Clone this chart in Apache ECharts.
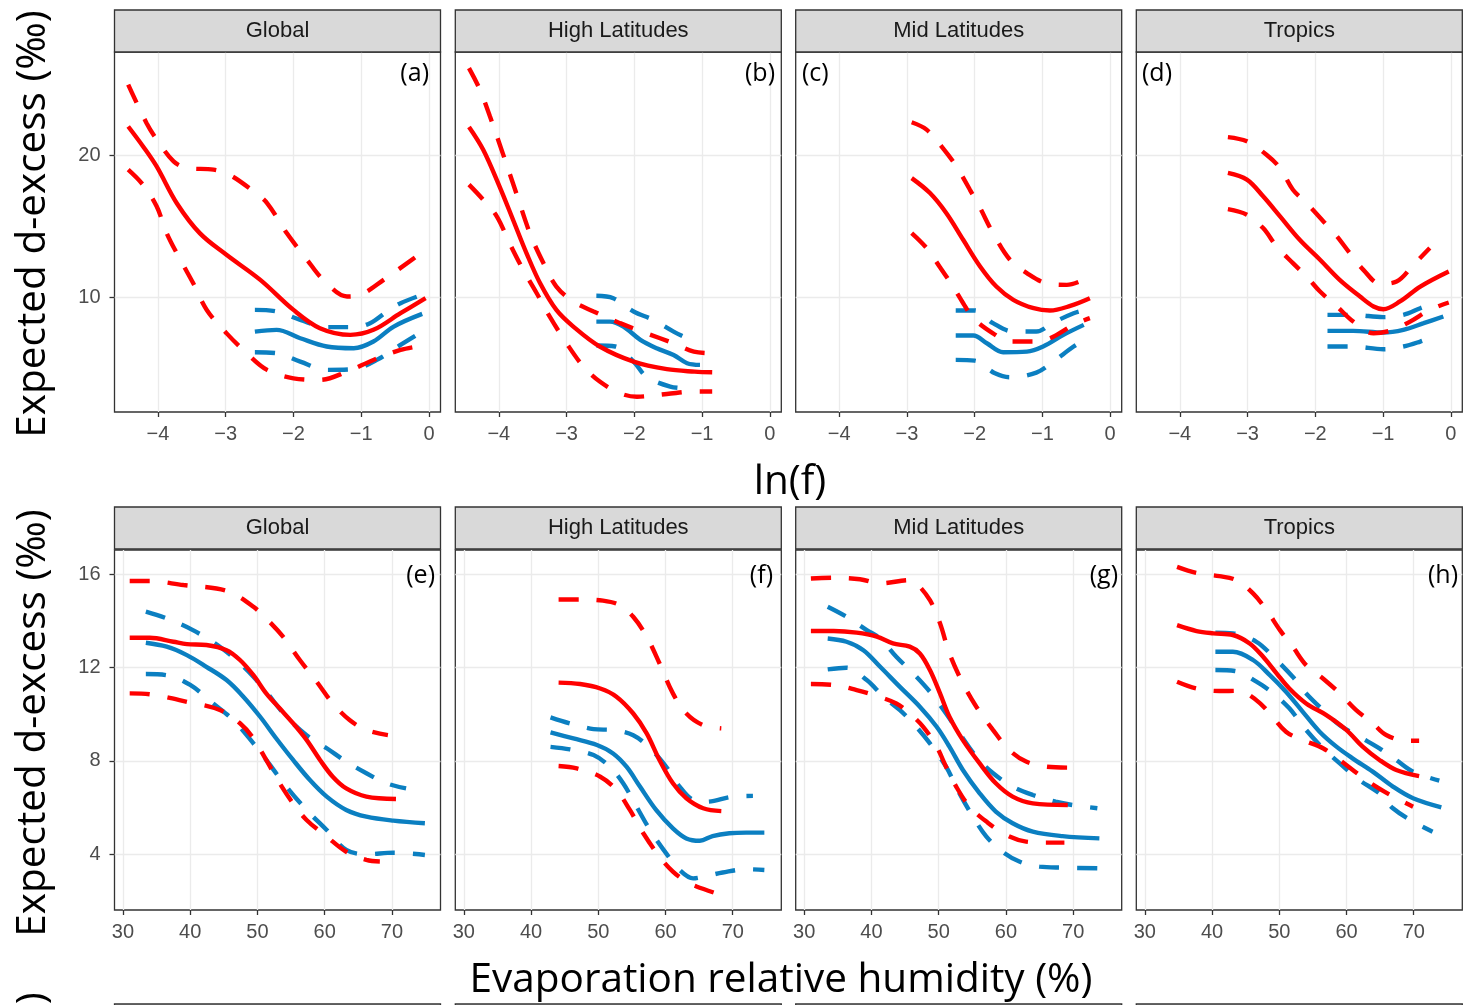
<!DOCTYPE html>
<html>
<head>
<meta charset="utf-8">
<script src="https://cdn.jsdelivr.net/npm/echarts@6/dist/echarts.min.js"></script>
<style>
  html, body { margin: 0; padding: 0; background: #fff; }
  #chart { width: 1479px; height: 1005px; }
</style>
</head>
<body>
<div id="chart"></div>
<script>
// facet strips and panel tags
const stripNames = ['Global', 'High Latitudes', 'Mid Latitudes', 'Tropics'];
const tagsTop = ['(a)', '(b)', '(c)', '(d)'];
const tagsBottom = ['(e)', '(f)', '(g)', '(h)'];

// tick labels
const lnfTicks = [-4, -3, -2, -1, 0];
const lnfYTicks = [10, 20];
const rhTicks = [30, 40, 50, 60, 70];
const rhYTicks = [4, 8, 12, 16];

// ---- top row: ln(f) ----
const aRed = [[-4.44,22.0],[-4.22,20.6],[-4.02,19.2],[-3.72,16.6],[-3.38,14.5],[-2.99,13.0],[-2.49,11.24],[-2.0,9.13],[-1.61,7.85],[-1.16,7.38],[-0.82,7.73],[-0.42,8.9],[-0.05,9.95]];
const aRedHi = [[-4.44,24.94],[-4.17,22.25],[-4.02,21.1],[-3.77,19.55],[-3.58,19.1],[-3.18,18.97],[-2.94,18.6],[-2.59,17.45],[-2.39,16.63],[-2.1,14.52],[-1.8,12.65],[-1.56,11.24],[-1.21,10.07],[-1.01,10.19],[-0.67,11.24],[-0.15,13.0]];
const aRedLo = [[-4.44,18.97],[-4.22,17.9],[-4.02,16.4],[-3.87,14.5],[-3.67,12.65],[-3.48,11.0],[-3.28,9.13],[-2.99,7.5],[-2.69,6.09],[-2.39,4.92],[-2.0,4.33],[-1.61,4.22],[-1.21,4.8],[-0.82,5.62],[-0.42,6.32],[-0.13,6.6]];
const aBlue = [[-2.57,7.61],[-2.25,7.73],[-1.9,7.14],[-1.51,6.56],[-1.11,6.44],[-0.82,6.91],[-0.52,7.96],[-0.1,8.85]];
const aBlueHi = [[-2.57,9.13],[-2.25,9.02],[-1.9,8.43],[-1.51,7.92],[-1.11,7.92],[-0.87,8.2],[-0.62,9.02],[-0.42,9.6],[-0.1,10.19]];
const aBlueLo = [[-2.57,6.16],[-2.25,6.09],[-1.9,5.5],[-1.51,4.92],[-1.11,4.97],[-0.77,5.62],[-0.42,6.67],[-0.1,7.61]];

const bRed = [[-4.44,21.97],[-4.23,20.37],[-3.99,17.8],[-3.79,15.46],[-3.59,13.1],[-3.39,11.0],[-3.15,9.13],[-2.9,7.96],[-2.51,6.56],[-2.01,5.5],[-1.52,4.97],[-1.11,4.8],[-0.85,4.75]];
const bRedHi = [[-4.44,26.1],[-4.28,24.6],[-4.13,22.7],[-3.94,20.1],[-3.74,17.3],[-3.54,14.5],[-3.34,12.4],[-3.15,10.77],[-2.9,9.72],[-2.6,9.02],[-2.21,8.2],[-1.82,7.49],[-1.42,6.79],[-1.12,6.2],[-0.85,6.09]];
const bRedLo = [[-4.44,17.92],[-4.23,16.86],[-4.03,15.7],[-3.84,13.8],[-3.64,11.94],[-3.44,10.3],[-3.25,8.67],[-3.0,6.79],[-2.75,5.15],[-2.51,4.1],[-2.21,3.28],[-1.96,3.04],[-1.52,3.23],[-1.12,3.4],[-0.85,3.4]];
const bBlue = [[-2.56,8.31],[-2.36,8.31],[-2.16,7.96],[-1.91,7.03],[-1.67,6.44],[-1.42,5.97],[-1.22,5.39],[-1.03,5.27]];
const bBlueHi = [[-2.56,10.12],[-2.31,9.95],[-2.01,9.02],[-1.72,8.43],[-1.42,7.61],[-1.17,7.03]];
const bBlueLo = [[-2.56,6.63],[-2.28,6.56],[-2.01,5.5],[-1.82,4.45],[-1.47,3.75],[-1.22,3.63]];

const cRed = [[-2.93,18.38],[-2.66,17.33],[-2.42,15.93],[-2.17,14.05],[-1.92,12.18],[-1.68,10.77],[-1.43,9.84],[-1.13,9.25],[-0.89,9.09],[-0.59,9.41],[-0.3,9.95]];
const cRedHi = [[-2.93,22.3],[-2.71,21.78],[-2.47,20.49],[-2.27,19.2],[-2.07,17.56],[-1.92,16.28],[-1.73,14.52],[-1.48,12.65],[-1.23,11.71],[-0.94,11.0],[-0.64,10.89],[-0.3,11.48]];
const cRedLo = [[-2.93,14.52],[-2.71,13.47],[-2.52,12.18],[-2.32,10.77],[-2.17,9.6],[-2.02,8.55],[-1.73,7.49],[-1.48,6.91],[-1.13,6.91],[-0.89,7.14],[-0.54,8.08],[-0.3,8.55]];
const cBlue = [[-2.28,7.33],[-2.02,7.33],[-1.82,6.79],[-1.58,6.16],[-1.23,6.2],[-0.99,6.56],[-0.69,7.38],[-0.39,8.08]];
const cBlueHi = [[-2.28,9.09],[-2.0,9.09],[-1.73,8.2],[-1.43,7.61],[-1.09,7.61],[-0.84,8.24],[-0.54,8.9],[-0.37,9.13]];
const cBlueLo = [[-2.28,5.62],[-2.0,5.57],[-1.7,4.68],[-1.48,4.4],[-1.09,4.73],[-0.84,5.5],[-0.54,6.56],[-0.37,7.03]];

const dRed = [[-3.29,18.74],[-3.01,18.27],[-2.77,17.1],[-2.52,15.69],[-2.23,14.05],[-1.93,12.65],[-1.64,11.24],[-1.34,10.07],[-1.14,9.37],[-0.995,9.18],[-0.75,9.72],[-0.45,10.77],[-0.03,11.83]];
const dRedHi = [[-3.29,21.26],[-3.01,20.96],[-2.72,20.02],[-2.52,19.08],[-2.33,17.56],[-2.13,16.63],[-1.88,15.34],[-1.68,14.29],[-1.49,13.11],[-1.29,11.94],[-1.04,10.96],[-0.8,11.12],[-0.55,12.3],[-0.31,13.47]];
const dRedLo = [[-3.29,16.2],[-3.01,15.81],[-2.77,14.87],[-2.57,13.58],[-2.33,12.41],[-2.13,11.48],[-1.93,10.42],[-1.68,9.37],[-1.44,8.31],[-1.14,7.49],[-0.85,7.73],[-0.6,8.31],[-0.31,9.13],[-0.03,9.65]];
const dBlue = [[-1.82,7.66],[-1.44,7.66],[-0.995,7.54],[-0.7,7.73],[-0.4,8.2],[-0.11,8.67]];
const dBlueHi = [[-1.82,8.78],[-1.44,8.78],[-0.995,8.62],[-0.7,8.78],[-0.45,9.25],[-0.28,9.55]];
const dBlueLo = [[-1.82,6.56],[-1.44,6.56],[-0.995,6.37],[-0.7,6.56],[-0.45,6.91],[-0.28,7.21]];

// ---- bottom row: evaporation RH ----
const eRed = [[31.0,13.27],[34.0,13.27],[37.5,13.1],[39.5,13.0],[42.4,12.96],[45.4,12.74],[47.4,12.32],[49.4,11.67],[51.3,10.89],[53.3,10.25],[55.3,9.61],[57.3,8.9],[59.3,8.04],[61.2,7.32],[63.2,6.82],[66.2,6.47],[70.6,6.37]];
const eRedHi = [[31.0,15.7],[34.0,15.7],[39.0,15.53],[43.9,15.38],[46.4,15.17],[49.4,14.6],[51.3,14.1],[53.8,13.32],[56.3,12.32],[58.8,11.39],[61.2,10.46],[63.7,9.75],[66.2,9.32],[69.4,9.1]];
const eRedLo = [[31.0,10.89],[34.0,10.85],[39.5,10.53],[44.4,10.18],[47.4,9.61],[49.4,8.96],[51.3,8.04],[53.3,7.04],[55.3,6.18],[57.3,5.47],[60.3,4.76],[63.2,4.11],[66.2,3.76],[68.2,3.69]];
const eBlue = [[33.4,13.06],[36.5,12.89],[39.5,12.53],[42.4,12.03],[45.4,11.46],[47.9,10.75],[50.4,9.89],[52.8,8.96],[55.3,8.04],[57.8,7.18],[60.3,6.47],[63.2,5.9],[66.2,5.61],[70.2,5.44],[74.9,5.33]];
const eBlueHi = [[33.4,14.39],[36.5,14.1],[40.4,13.6],[44.4,12.89],[47.4,12.17],[49.4,11.6],[51.3,10.96],[54.3,9.89],[57.3,9.1],[60.3,8.54],[63.2,7.97],[66.2,7.47],[69.2,7.04],[72.1,6.82]];
const eBlueLo = [[33.4,11.72],[36.5,11.67],[40.0,11.25],[43.4,10.46],[46.4,9.75],[49.4,8.75],[51.3,8.04],[54.3,6.9],[57.3,5.9],[60.3,5.04],[63.2,4.19],[66.2,4.0],[70.2,4.07],[74.9,3.97]];

const fRed = [[44.1,11.35],[47.3,11.29],[50.3,11.1],[52.7,10.75],[55.2,10.03],[57.2,9.18],[59.1,8.04],[61.1,7.04],[63.1,6.4],[65.6,5.97],[68.3,5.85]];
const fRedHi = [[44.1,14.91],[47.3,14.91],[50.7,14.86],[53.2,14.67],[55.2,14.17],[57.2,13.32],[59.1,12.18],[61.1,10.89],[63.1,10.03],[65.6,9.53],[68.3,9.39]];
const fRedLo = [[44.1,7.78],[46.8,7.68],[50.3,7.32],[52.7,6.75],[54.7,5.9],[56.7,4.9],[59.1,3.9],[61.1,3.26],[63.1,2.83],[64.6,2.62],[68.3,2.26]];
const fBlue = [[42.9,9.22],[46.3,8.96],[49.8,8.68],[52.2,8.32],[54.2,7.75],[56.2,6.9],[58.6,5.9],[61.1,5.11],[63.1,4.68],[65.1,4.58],[67.0,4.78],[69.5,4.9],[72.0,4.93],[74.7,4.93]];
const fBlueHi = [[42.9,9.86],[45.8,9.6],[49.3,9.36],[52.2,9.32],[55.2,9.1],[57.7,8.54],[60.1,7.75],[62.1,6.9],[64.1,6.33],[66.1,6.25],[70.0,6.47],[73.0,6.5]];
const fBlueLo = [[42.9,8.6],[45.8,8.49],[49.3,8.25],[51.7,7.75],[53.7,7.04],[55.7,6.04],[57.7,5.04],[60.1,4.04],[62.1,3.33],[64.1,2.97],[66.1,3.07],[68.5,3.22],[72.0,3.36],[74.7,3.33]];

const gRed = [[31.0,13.56],[34.4,13.56],[37.8,13.49],[40.8,13.32],[43.2,13.03],[45.7,12.89],[47.2,12.6],[48.7,11.89],[50.2,10.89],[51.6,9.89],[53.6,8.89],[56.1,7.89],[58.5,7.04],[61.0,6.47],[64.0,6.18],[69.2,6.11]];
const gRedHi = [[31.0,15.81],[34.4,15.84],[38.3,15.78],[41.3,15.6],[45.7,15.74],[46.7,15.6],[48.7,14.88],[50.2,13.89],[51.6,12.6],[53.6,11.32],[55.6,10.32],[58.1,9.32],[60.5,8.47],[63.0,7.97],[66.0,7.75],[69.2,7.71]];
const gRedLo = [[31.0,11.29],[34.4,11.25],[37.8,11.03],[40.3,10.82],[43.7,10.46],[45.7,10.03],[47.7,9.46],[49.7,8.61],[51.1,7.75],[52.6,6.9],[54.6,6.04],[57.1,5.4],[60.0,4.83],[63.0,4.54],[66.0,4.5],[68.7,4.5]];
const gBlue = [[33.5,13.24],[36.3,13.1],[38.8,12.74],[41.3,12.03],[44.2,11.18],[47.2,10.32],[49.7,9.46],[51.6,8.61],[53.6,7.61],[56.1,6.61],[58.5,5.83],[61.0,5.33],[64.0,4.97],[68.4,4.78],[73.9,4.68]];
const gBlueHi = [[33.5,14.6],[36.3,14.17],[39.3,13.6],[41.3,13.24],[43.7,12.46],[46.2,11.75],[48.7,10.96],[51.1,10.03],[53.1,9.18],[55.6,8.18],[58.1,7.47],[61.0,6.9],[64.0,6.54],[67.4,6.25],[69.9,6.11],[73.6,5.97]];
const gBlueLo = [[33.5,11.92],[36.3,11.99],[39.3,11.46],[41.8,10.75],[44.2,10.18],[46.2,9.61],[48.7,8.75],[51.1,7.75],[53.1,6.61],[55.1,5.61],[57.1,4.76],[59.5,4.11],[62.0,3.69],[65.0,3.47],[68.4,3.43],[73.9,3.4]];

const hRed = [[34.8,13.81],[37.7,13.56],[40.2,13.46],[43.1,13.39],[45.6,13.03],[47.6,12.46],[49.6,11.75],[51.5,11.1],[54.0,10.46],[57.0,9.96],[60.0,9.32],[62.4,8.61],[64.9,8.04],[67.4,7.61],[70.8,7.35]];
const hRedHi = [[34.8,16.31],[37.7,16.05],[41.1,15.91],[43.6,15.74],[46.1,15.17],[48.1,14.46],[50.1,13.6],[52.0,12.89],[54.0,12.1],[56.5,11.53],[59.0,10.89],[61.4,10.18],[63.9,9.61],[65.9,9.11],[68.9,8.86],[70.8,8.86]];
const hRedLo = [[34.8,11.39],[37.7,11.1],[41.1,10.99],[43.9,11.0],[46.6,10.6],[48.6,10.03],[51.0,9.25],[53.5,8.89],[56.5,8.54],[59.0,8.04],[61.9,7.4],[64.4,6.9],[67.4,6.4],[69.9,6.04]];
const hBlue = [[40.5,12.67],[43.1,12.67],[46.1,12.32],[48.6,11.67],[51.0,10.96],[53.5,10.1],[56.0,9.25],[58.5,8.61],[60.9,8.11],[63.9,7.54],[66.9,6.9],[69.9,6.4],[74.1,6.01]];
const hBlueHi = [[40.5,13.49],[43.1,13.46],[46.6,13.1],[49.1,12.46],[52.0,11.6],[54.0,10.89],[56.5,10.18],[59.0,9.53],[61.9,9.04],[64.9,8.54],[67.4,8.04],[69.9,7.54],[73.8,7.15]];
const hBlueLo = [[40.5,11.89],[43.4,11.85],[46.6,11.39],[49.1,10.89],[51.5,10.25],[54.0,9.32],[56.5,8.54],[59.0,7.89],[61.9,7.18],[64.9,6.61],[66.9,5.97],[69.9,5.4],[72.8,4.97]];

const panels = [
  [aRed, aRedHi, aRedLo, aBlue, aBlueHi, aBlueLo],
  [bRed, bRedHi, bRedLo, bBlue, bBlueHi, bBlueLo],
  [cRed, cRedHi, cRedLo, cBlue, cBlueHi, cBlueLo],
  [dRed, dRedHi, dRedLo, dBlue, dBlueHi, dBlueLo],
  [eRed, eRedHi, eRedLo, eBlue, eBlueHi, eBlueLo],
  [fRed, fRedHi, fRedLo, fBlue, fBlueHi, fBlueLo],
  [gRed, gRedHi, gRedLo, gBlue, gBlueHi, gBlueLo],
  [hRed, hRedHi, hRedLo, hBlue, hBlueHi, hBlueLo]
];

const RED = '#ff0000';
const BLUE = '#0b7fc1';
const DASH = [20, 18];
const lefts = [114.5, 455.3, 795.7, 1136.3];
const panelW = 326;
const rowTop = [52, 550];
const panelH = 360;
const stripTop = [10, 507];
const tickFont = { fontFamily: 'Liberation Sans', fontSize: 20, color: '#4d4d4d' };
const minus = v => String(v).replace('-', '\u2212');

const grids = [], xAxes = [], yAxes = [], series = [], graphics = [];

for (let i = 0; i < 8; i++) {
  const row = i < 4 ? 0 : 1, col = i % 4;
  grids.push({
    left: lefts[col], top: rowTop[row], width: panelW, height: panelH,
    show: true, borderColor: '#333333', borderWidth: 1.3, backgroundColor: '#fff'
  });
  const xt = row === 0 ? lnfTicks : rhTicks;
  const yt = row === 0 ? lnfYTicks : rhYTicks;
  xAxes.push({
    type: 'value', gridIndex: i,
    min: row === 0 ? -4.642 : 28.74, max: row === 0 ? 0.17 : 77.22,
    axisLine: { show: false, onZero: false },
    axisTick: { show: true, length: 5, customValues: xt, lineStyle: { color: '#333', width: 1.3 } },
    axisLabel: { ...tickFont, margin: 12, customValues: xt, formatter: minus },
    splitLine: { show: true, lineStyle: { color: '#ebebeb', width: 1.3 } }
  });
  const yLabel = col === 0
    ? { show: true, ...tickFont, margin: 14, customValues: yt }
    : { show: false };
  yAxes.push({
    type: 'value', gridIndex: i,
    min: row === 0 ? 1.965 : 1.615, max: row === 0 ? 27.23 : 17.03,
    axisLine: { show: false, onZero: false },
    axisTick: { show: col === 0, length: 5, customValues: yt, lineStyle: { color: '#333', width: 1.3 } },
    axisLabel: yLabel,
    splitLine: { show: true, lineStyle: { color: '#ebebeb', width: 1.3 } }
  });
  const p = panels[i];
  const defs = [
    [p[3], BLUE, 'solid'], [p[4], BLUE, DASH], [p[5], BLUE, DASH],
    [p[0], RED, 'solid'], [p[1], RED, DASH], [p[2], RED, DASH]
  ];
  defs.forEach(([data, color, type]) => {
    series.push({
      type: 'line', xAxisIndex: i, yAxisIndex: i, data,
      smooth: 0.35, showSymbol: false, silent: true,
      lineStyle: { color, width: 4.4, type, cap: 'butt' }
    });
  });
}

// facet strips (two full rows and the cut-off third row)
[stripTop[0], stripTop[1], 1004].forEach(top => {
  lefts.forEach((l, col) => {
    graphics.push({
      type: 'rect', shape: { x: l, y: top, width: panelW, height: 42 },
      style: { fill: '#d9d9d9', stroke: '#333333', lineWidth: 1.3 }, z: 10
    });
    if (top < 1000) {
      graphics.push({
        type: 'text', x: l + panelW / 2, y: top + 21, z: 11,
        style: { text: stripNames[col], fontFamily: 'Liberation Sans', fontSize: 22,
                 fill: '#1a1a1a', align: 'center', verticalAlign: 'middle' }
      });
    }
  });
});

// panel tags
const tagPos = [
  [429, 'right'], [775, 'right'], [802, 'left'], [1142, 'left'],
  [435, 'right'], [773, 'right'], [1118, 'right'], [1458, 'right']
];
tagPos.forEach(([x, align], i) => {
  graphics.push({
    type: 'text', x, y: i < 4 ? 74 : 576, z: 12,
    style: { text: i < 4 ? tagsTop[i] : tagsBottom[i - 4], fontFamily: 'Open Sans',
             fontSize: 25, fill: '#000', align, verticalAlign: 'middle' }
  });
});

// axis titles
const titleFont = { fontFamily: 'Open Sans', fontSize: 40.5, fill: '#000' };
graphics.push(
  { type: 'text', x: 790, y: 482, style: { text: 'ln(f)', ...titleFont, align: 'center', verticalAlign: 'middle' } },
  { type: 'text', x: 781, y: 980, style: { text: 'Evaporation relative humidity (%)', ...titleFont, align: 'center', verticalAlign: 'middle' } }
);
[224, 723, 1206].forEach(cy => {
  graphics.push({
    type: 'text', x: 33, y: cy, rotation: Math.PI / 2,
    style: { text: 'Expected d-excess (\u2030)', ...titleFont, align: 'center', verticalAlign: 'middle' }
  });
});

const chart = echarts.init(document.getElementById('chart'), null, { renderer: 'canvas' });
chart.setOption({
  animation: false,
  backgroundColor: '#fff',
  grid: grids,
  xAxis: xAxes,
  yAxis: yAxes,
  series,
  graphic: { elements: graphics }
});
</script>
</body>
</html>
